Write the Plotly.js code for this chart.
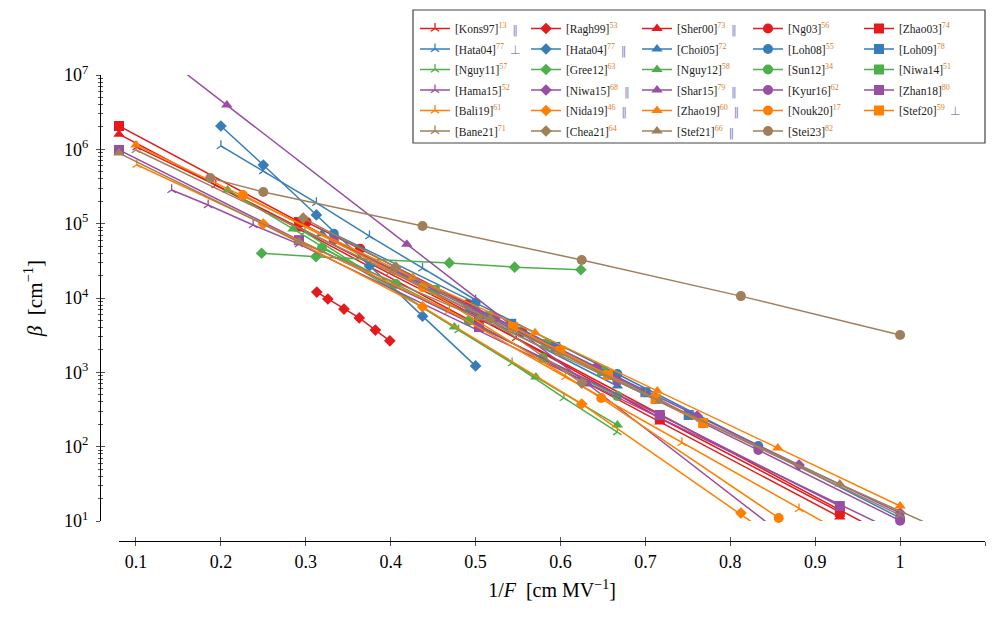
<!DOCTYPE html>
<html>
<head>
<meta charset="utf-8">
<script src="https://cdn.plot.ly/plotly-3.0.1.min.js"></script>
<style>html,body{margin:0;padding:0;background:#fff;}#chart{width:993px;height:619px;}</style>
</head>
<body>
<div id="chart"></div>
<script>
// ---------------- data (1/F in cm/MV, beta in 1/cm) ----------------
const kons97_x = [0.101, 0.194, 0.548, 0.98];
const kons97_y = [1.07e6, 3.3e5, 2.9e3, 6.9];
const ragh99_x = [0.313, 0.326, 0.345, 0.363, 0.382, 0.399];
const ragh99_y = [1.2e4, 9.7e3, 7.1e3, 5.4e3, 3.7e3, 2.65e3];
const sher00_x = [0.08, 0.292, 0.504, 0.717, 0.929];
const sher00_y = [1.6e6, 8.5e4, 4.3e3, 215, 11.3];
const ng03_x = [0.301, 0.364, 0.491, 0.555];
const ng03_y = [1.05e5, 4.6e4, 8.3e3, 3.5e3];
const zhao03_x = [0.08, 0.292, 0.504, 0.717, 0.929];
const zhao03_y = [2.06e6, 1.05e5, 5.4e3, 243, 13.2];

const hata04perp_x = [0.2, 0.25, 0.3125, 0.375, 0.4375, 0.5];
const hata04perp_y = [1.11e6, 5.1e5, 1.9e5, 6.8e4, 2.5e4, 9.4e3];
const hata04par_x = [0.2, 0.25, 0.3125, 0.375, 0.4375, 0.5];
const hata04par_y = [2.06e6, 6.15e5, 1.31e5, 2.7e4, 5.7e3, 1.22e3];
const choi05_x = [0.319, 0.492, 0.667];
const choi05_y = [7.3e4, 6.9e3, 655];
const loh08_x = [0.333, 0.5, 0.667, 0.833, 1.0];
const loh08_y = [7.3e4, 8.6e3, 950, 102, 11];
const loh09_x = [0.542, 0.594, 0.700, 0.751];
const loh09_y = [4.5e3, 2.2e3, 540, 267];

const nguy11_x = [0.299, 0.48, 0.543, 0.604, 0.667];
const nguy11_y = [7.7e4, 3.7e3, 1.33e3, 452, 157];
const gree12_x = [0.248, 0.312, 0.469, 0.546, 0.624];
const gree12_y = [4.0e4, 3.6e4, 2.96e4, 2.6e4, 2.4e4];
const nguy12_x = [0.208, 0.285, 0.475, 0.571, 0.667];
const nguy12_y = [2.84e5, 8.5e4, 4.07e3, 865, 195];
const sun12_x = [0.319, 0.406, 0.492, 0.579, 0.667];
const sun12_y = [4.7e4, 1.54e4, 4.9e3, 1.56e3, 480];
const niwa14_x = [0.452, 0.517, 0.583, 0.649];
const niwa14_y = [1.28e4, 5.7e3, 2.4e3, 1.04e3];

const hama15_x = [0.142, 0.185, 0.238, 0.292, 0.99];
const hama15_y = [2.84e5, 1.78e5, 9.6e4, 5.3e4, 7.7];
const niwa15_x = [0.404, 0.523, 0.642, 0.761, 0.881, 1.0];
const niwa15_y = [2.45e4, 5.4e3, 1.18e3, 258, 56.6, 12.8];
const shar15_x = [0.15, 0.207, 0.419, 0.632, 0.845];
const shar15_y = [1.25e7, 3.95e6, 5.3e4, 697, 9.2];
const kyur16_x = [0.333, 0.5, 0.667, 0.833, 1.0];
const kyur16_y = [6.0e4, 6.7e3, 764, 90, 10.1];
const zhan18_x = [0.08, 0.292, 0.504, 0.717, 0.929];
const zhan18_y = [9.8e5, 6.0e4, 4.07e3, 267, 15.9];

const bali19_x = [0.101, 0.469, 0.606, 0.743, 0.881, 1.02];
const bali19_y = [6.2e5, 6.7e3, 865, 112, 14.5, 1.9];
const nida19_x = [0.25, 0.4375, 0.625, 0.8125, 1.0];
const nida19_y = [9.9e4, 7.6e3, 375, 12.8, 0.4];
const zhao19_x = [0.1, 0.426, 0.570, 0.714, 0.856, 1.0];
const zhao19_y = [1.14e6, 1.9e4, 3.4e3, 561, 96, 15.9];
const nouk20_x = [0.226, 0.438, 0.648, 0.857];
const nouk20_y = [2.43e5, 1.4e4, 451, 11];
const stef20_x = [0.544, 0.6, 0.656, 0.712, 0.768];
const stef20_y = [4.07e3, 1.94e3, 921, 438, 208];

const bane21_x = [0.1, 0.4, 0.7, 1.0];
const bane21_y = [9.8e5, 2.24e4, 511, 12];
const chea21_x = [0.297, 0.406, 0.517, 0.625];
const chea21_y = [1.19e5, 2.6e4, 5.1e3, 718];
const stef21_x = [0.08, 0.292, 0.504, 0.717, 0.929, 1.14];
const stef21_y = [8.9e5, 5.7e4, 5.4e3, 411, 31.4, 2.6];
const stei23_x = [0.1875, 0.25, 0.4375, 0.625, 0.8125, 1.0];
const stei23_y = [4.1e5, 2.67e5, 9.3e4, 3.25e4, 1.06e4, 3.18e3];

// legend labels: [key, reference number, orientation mark]
const labels = [
  ['Kons97', '13', 'par'], ['Ragh99', '53', ''], ['Sher00', '73', 'par'], ['Ng03', '56', ''], ['Zhao03', '74', ''],
  ['Hata04', '77', 'perp'], ['Hata04', '77', 'par'], ['Choi05', '72', ''], ['Loh08', '55', ''], ['Loh09', '78', ''],
  ['Nguy11', '57', ''], ['Gree12', '63', ''], ['Nguy12', '58', ''], ['Sun12', '34', ''], ['Niwa14', '51', ''],
  ['Hama15', '52', ''], ['Niwa15', '68', 'par'], ['Shar15', '79', 'par'], ['Kyur16', '62', ''], ['Zhan18', '80', ''],
  ['Bali19', '61', ''], ['Nida19', '46', 'par'], ['Zhao19', '60', 'par'], ['Nouk20', '17', ''], ['Stef20', '59', 'perp'],
  ['Bane21', '71', ''], ['Chea21', '64', ''], ['Stef21', '66', 'par'], ['Stei23', '82', '']
];
const seriesX = [kons97_x, ragh99_x, sher00_x, ng03_x, zhao03_x,
  hata04perp_x, hata04par_x, choi05_x, loh08_x, loh09_x,
  nguy11_x, gree12_x, nguy12_x, sun12_x, niwa14_x,
  hama15_x, niwa15_x, shar15_x, kyur16_x, zhan18_x,
  bali19_x, nida19_x, zhao19_x, nouk20_x, stef20_x,
  bane21_x, chea21_x, stef21_x, stei23_x];
const seriesY = [kons97_y, ragh99_y, sher00_y, ng03_y, zhao03_y,
  hata04perp_y, hata04par_y, choi05_y, loh08_y, loh09_y,
  nguy11_y, gree12_y, nguy12_y, sun12_y, niwa14_y,
  hama15_y, niwa15_y, shar15_y, kyur16_y, zhan18_y,
  bali19_y, nida19_y, zhao19_y, nouk20_y, stef20_y,
  bane21_y, chea21_y, stef21_y, stei23_y];

const xTicks = [0.1, 0.2, 0.3, 0.4, 0.5, 0.6, 0.7, 0.8, 0.9, 1.0, 1.1];
const xTickText = ['0.1', '0.2', '0.3', '0.4', '0.5', '0.6', '0.7', '0.8', '0.9', '1', '1.1'];
const yTicks = [1e1, 1e2, 1e3, 1e4, 1e5, 1e6, 1e7];
const yTickText = ['10<sup>1</sup>', '10<sup>2</sup>', '10<sup>3</sup>', '10<sup>4</sup>', '10<sup>5</sup>', '10<sup>6</sup>', '10<sup>7</sup>'];

// ---------------- style ----------------
const rowColors = ['#e41a1c', '#377eb8', '#4daf4a', '#984ea3', '#ff7f00', '#a0805a'];
const colSymbols = ['y-up-open', 'diamond', 'triangle-up', 'circle', 'square'];
const colSizes = [7, 9, 10, 10, 10];
const FONT = 'Liberation Serif, Times New Roman, serif';
const SUPC = '#d9822b';
const MARKC = '#8585c8';

// page geometry (px)
const W = 993, H = 619;
const M = {l: 100, r: 8, t: 75, b: 78};
const PW = W - M.l - M.r, PH = H - M.t - M.b;
const px2paperX = p => (p - M.l) / PW;
const px2paperY = p => 1 - (p - M.t) / PH;

const legendColLeft = 415;
const legendRowTop = [14, 34.5, 55, 75.5, 96, 116.5];

function labelText(l) {
  let s = '[' + l[0] + ']<sup><span style="color:' + SUPC + '">' + l[1] + '</span></sup>';
  if (l[2] === 'par') s += '  <span style="color:' + MARKC + ';font-family:DejaVu Serif">‖</span>';
  if (l[2] === 'perp') s += '  <span style="color:' + MARKC + '">⊥</span>';
  return s;
}

const traces = [];
for (let i = 0; i < seriesX.length; i++) {
  const row = Math.floor(i / 5), col = i % 5;
  const c = rowColors[row];
  const sym = colSymbols[col];
  const open = sym.indexOf('open') >= 0;
  traces.push({
    type: 'scatter', mode: 'lines+markers',
    x: seriesX[i], y: seriesY[i],
    name: labelText(labels[i]),
    legend: row === 0 ? 'legend' : 'legend' + (row + 1),
    line: {color: c, width: 1.5},
    marker: {symbol: sym, size: colSizes[col], color: c,
             line: {color: c, width: open ? 1.3 : 0}},
    cliponaxis: false,
    hoverinfo: 'skip'
  });
}
// empty traces to attach the overlay (inner-tick) axes
traces.push({type: 'scatter', x: [], y: [], xaxis: 'x', yaxis: 'y2', showlegend: false, hoverinfo: 'skip'});
traces.push({type: 'scatter', x: [], y: [], xaxis: 'x2', yaxis: 'y', showlegend: false, hoverinfo: 'skip'});

const minorY = [];
for (let d = 1; d < 7; d++) for (let m = 2; m <= 9; m++) minorY.push(m * Math.pow(10, d));

const tickFont = {family: FONT, size: 18, color: '#000'};
const layout = {
  width: W, height: H,
  margin: {l: M.l, r: M.r, t: M.t, b: M.b, autoexpand: false},
  paper_bgcolor: '#fff', plot_bgcolor: '#fff',
  font: {family: FONT, color: '#000'},
  xaxis: {
    domain: [px2paperX(119), 1], range: [0.08, 1.1],
    anchor: 'free', position: 0,
    showline: true, linecolor: '#000', linewidth: 1,
    ticks: 'outside', ticklen: 4, tickcolor: '#555', tickwidth: 1,
    tickmode: 'array', tickvals: xTicks, ticktext: xTickText,
    showgrid: false, zeroline: false, tickfont: tickFont, automargin: false,
    title: {text: '1/<i>F</i>  [cm MV<sup>−1</sup>]', font: {family: FONT, size: 20, color: '#000'}, standoff: 12}
  },
  xaxis2: {
    overlaying: 'x', anchor: 'free', position: 0, range: [0.08, 1.1],
    showline: false, ticks: 'inside', ticklen: 4, tickcolor: '#555', tickwidth: 1,
    tickmode: 'array', tickvals: xTicks, showticklabels: false,
    showgrid: false, zeroline: false, automargin: false
  },
  yaxis: {
    domain: [1 - (521 - M.t) / PH, 1], type: 'log', range: [1, 7],
    anchor: 'free', position: 0,
    showline: true, linecolor: '#000', linewidth: 1,
    ticks: 'outside', ticklen: 4, tickcolor: '#555', tickwidth: 1, ticklabelstandoff: 4,
    tickmode: 'array', tickvals: yTicks, ticktext: yTickText,
    minor: {tickmode: 'array', tickvals: minorY, ticks: 'outside', ticklen: 2, tickcolor: '#555', tickwidth: 1, showgrid: false},
    showgrid: false, zeroline: false, tickfont: tickFont, automargin: false,
    title: {text: '<i>β</i>  [cm<sup>−1</sup>]', font: {family: FONT, size: 21, color: '#000'}, standoff: 14}
  },
  yaxis2: {
    overlaying: 'y', type: 'log', range: [1, 7], anchor: 'free', position: 0,
    showline: false, ticks: 'inside', ticklen: 4, tickcolor: '#555', tickwidth: 1,
    tickmode: 'array', tickvals: yTicks, showticklabels: false,
    minor: {tickmode: 'array', tickvals: minorY, ticks: 'inside', ticklen: 2, tickcolor: '#555', tickwidth: 1, showgrid: false},
    showgrid: false, zeroline: false, automargin: false
  },
  shapes: [{
    type: 'rect', xref: 'paper', yref: 'paper',
    x0: px2paperX(413), x1: px2paperX(985), y0: px2paperY(143), y1: px2paperY(10),
    line: {color: '#444', width: 1.2}, fillcolor: '#fff', layer: 'above'
  }],
  showlegend: true
};
for (let r = 0; r < 6; r++) {
  const key = r === 0 ? 'legend' : 'legend' + (r + 1);
  layout[key] = {
    orientation: 'h', xanchor: 'left', yanchor: 'top',
    x: px2paperX(legendColLeft), y: px2paperY(legendRowTop[r]),
    entrywidth: 66, entrywidthmode: 'pixels', itemwidth: 30,
    bgcolor: 'rgba(0,0,0,0)', borderwidth: 0,
    font: {family: FONT, size: 11.5, color: '#222'},
    tracegroupgap: 0, itemclick: false, itemdoubleclick: false
  };
}

Plotly.newPlot('chart', traces, layout, {displayModeBar: false, staticPlot: true});
</script>
</body>
</html>
